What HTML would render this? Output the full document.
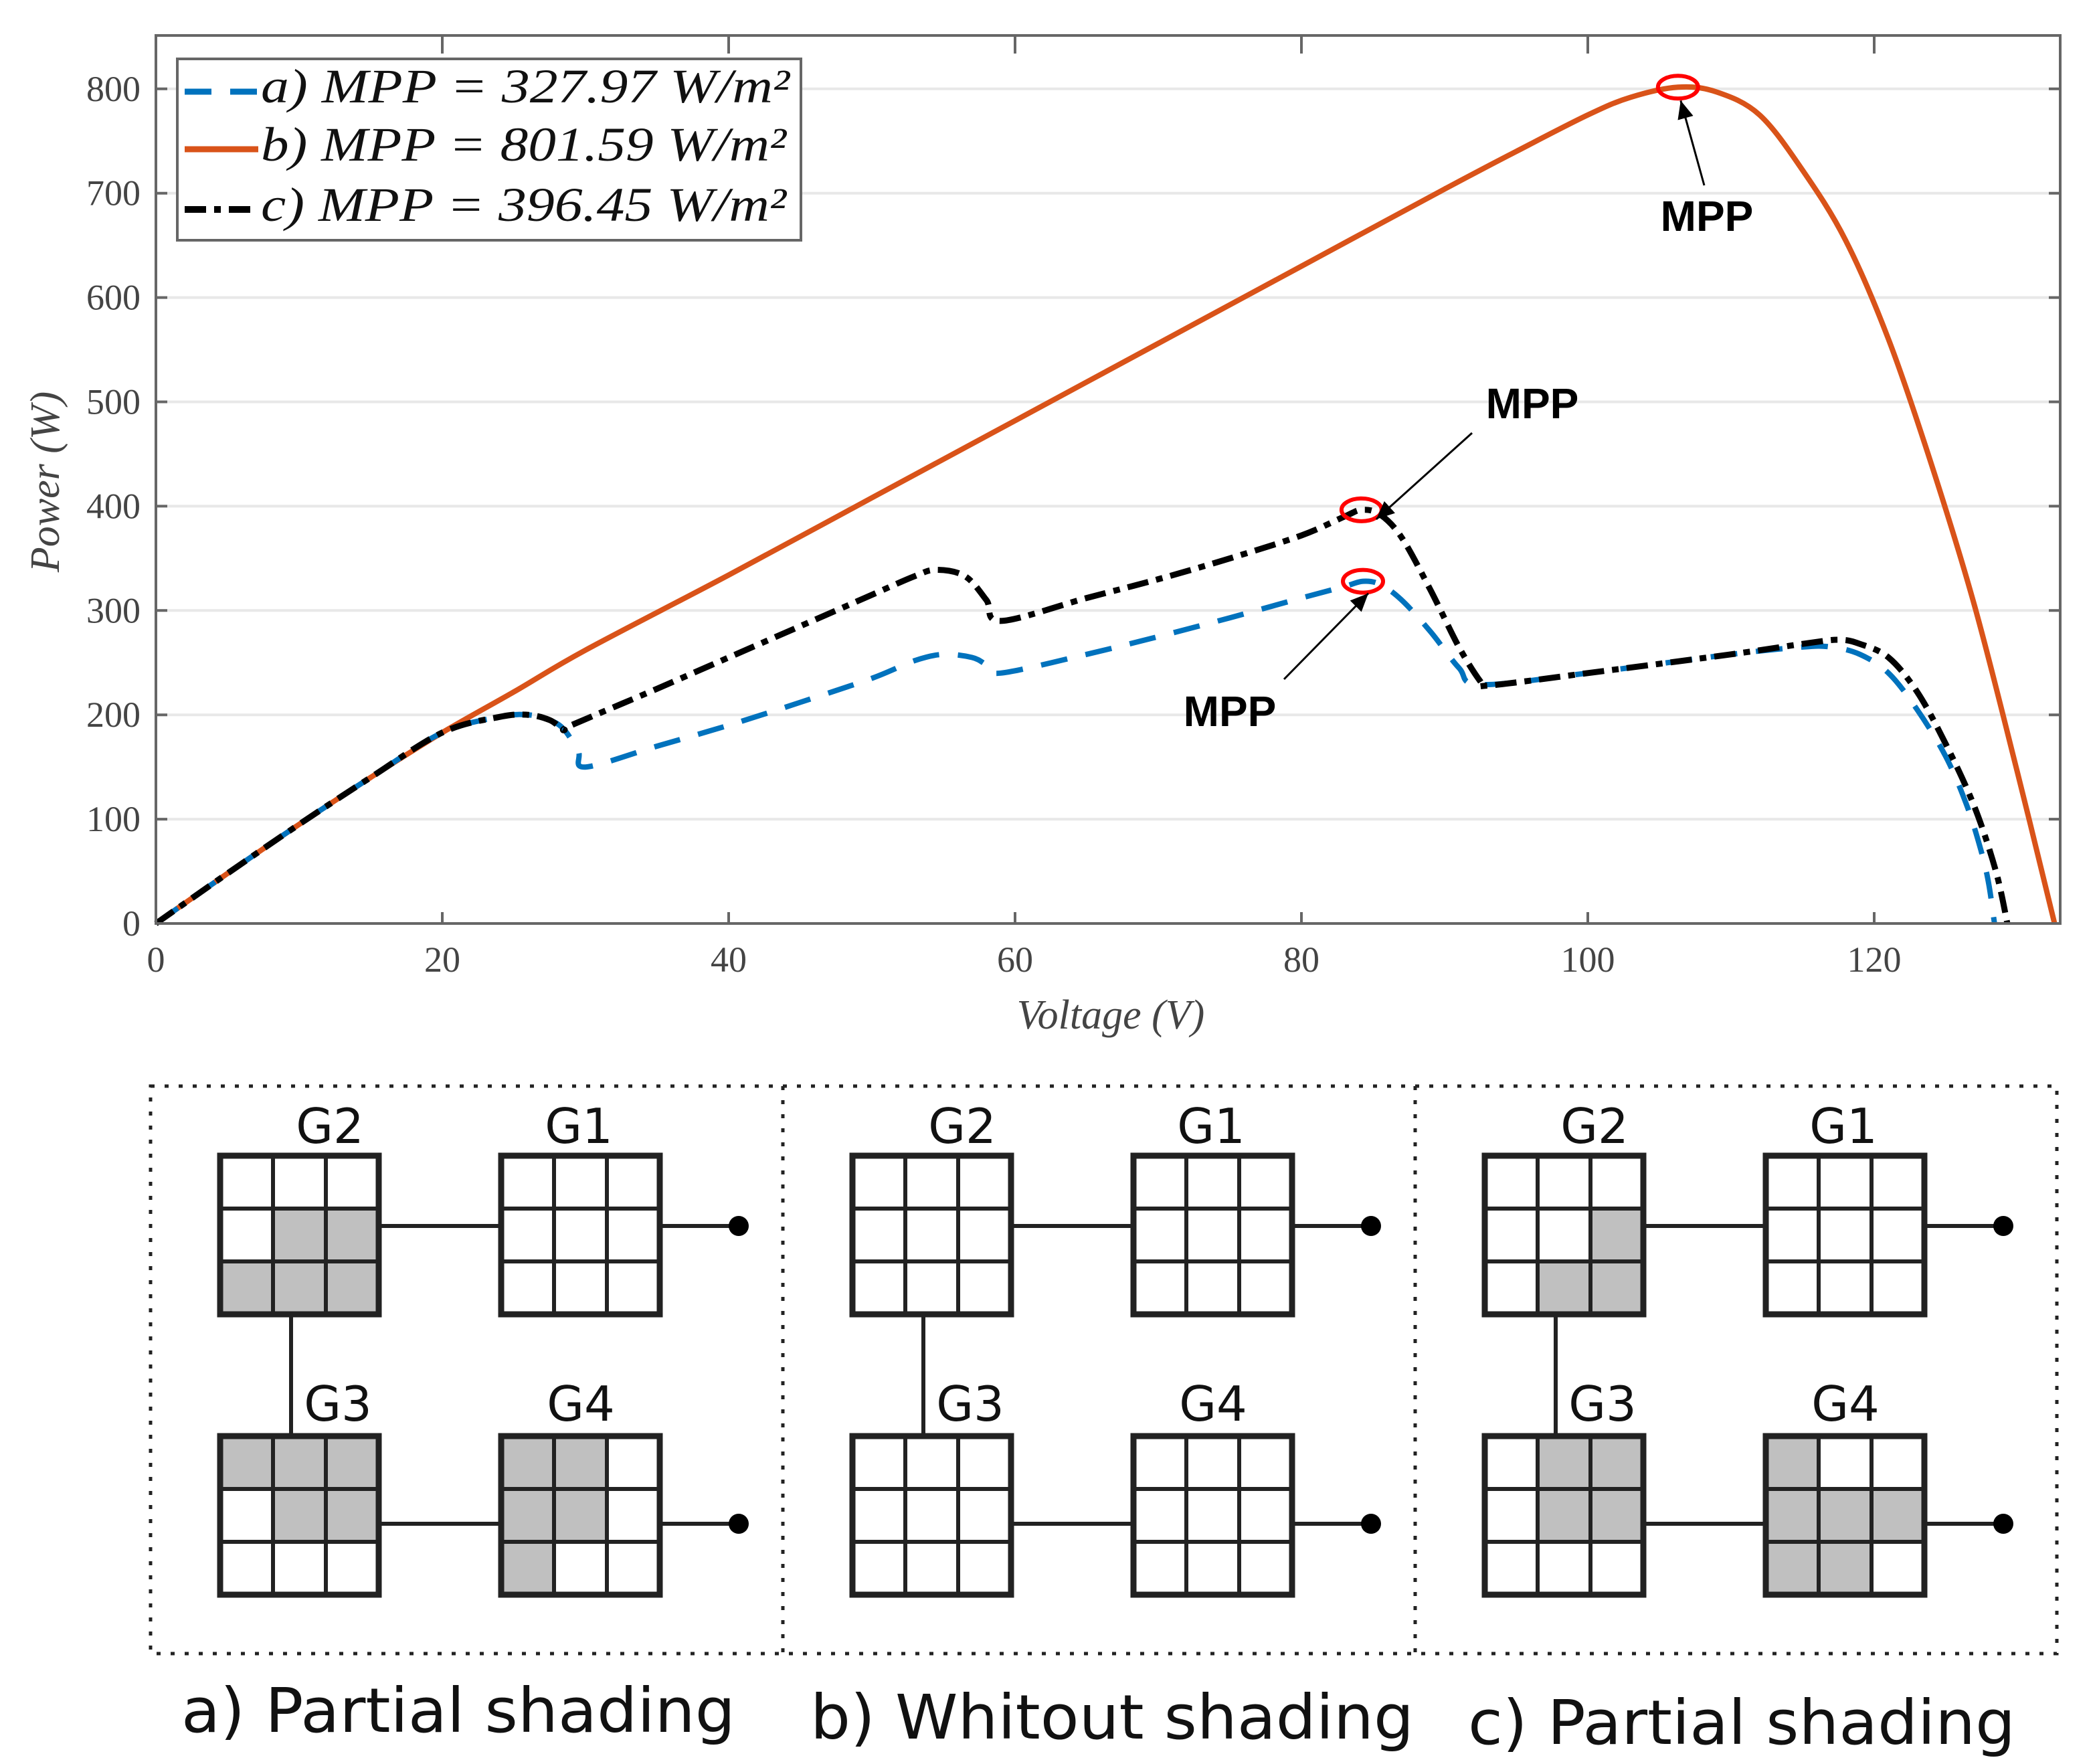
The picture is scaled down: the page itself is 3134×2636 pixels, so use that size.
<!DOCTYPE html>
<html><head><meta charset="utf-8"><style>
html,body{margin:0;padding:0;background:#fff}
svg{display:block}
</style></head><body>
<svg id="fig" xmlns="http://www.w3.org/2000/svg" width="3134" height="2636" viewBox="0 0 3134 2636">
<rect x="0" y="0" width="3134" height="2636" fill="#fff"/>
<g id="grid"></g>
<g id="series"></g>
<rect x="233" y="53" width="2846" height="1327" fill="none" stroke="#666" stroke-width="4"/>
<g id="ticks"></g>
<text transform="translate(88,720) rotate(-90)" text-anchor="middle" font-family="Liberation Serif, serif" font-style="italic" font-size="62" fill="#444">Power (W)</text>
<text x="1660" y="1537" text-anchor="middle" font-family="Liberation Serif, serif" font-style="italic" font-size="62" fill="#444">Voltage (V)</text>
<g>
<rect x="265" y="88" width="932" height="271" fill="#fff" stroke="#666" stroke-width="4"/>
<line x1="276" y1="137" x2="386" y2="137" stroke="#0072BD" stroke-width="9" stroke-dasharray="40 28"/>
<line x1="276" y1="223" x2="386" y2="223" stroke="#D95319" stroke-width="9"/>
<line x1="276" y1="313" x2="386" y2="313" stroke="#000" stroke-width="10" stroke-dasharray="32 12 10 12"/>
<text x="390" y="153" font-family="Liberation Serif, serif" font-style="italic" font-size="72" fill="#111" textLength="790" lengthAdjust="spacingAndGlyphs">a) MPP = 327.97 W/m²</text>
<text x="390" y="240" font-family="Liberation Serif, serif" font-style="italic" font-size="72" fill="#111" textLength="785" lengthAdjust="spacingAndGlyphs">b) MPP = 801.59 W/m²</text>
<text x="390" y="330" font-family="Liberation Serif, serif" font-style="italic" font-size="72" fill="#111" textLength="785" lengthAdjust="spacingAndGlyphs">c) MPP = 396.45 W/m²</text>
</g>
<g id="annot"></g>
<g id="panels"></g>
</svg>
<script>
// chart data
const xTicks = [0,20,40,60,80,100,120];
const yTicks = [0,100,200,300,400,500,600,700,800];
const vB = [0,5,10,15,20,25,30,40,50,60,70,80,90,95,100,103,106.3,109,112,115,118,121,124,127,130,132.6];
const pB = [0,48,95,140,183,222,262,334,408,482,556,630,704,740,775,792,801.6,797,775,722,655,560,440,305,145,0];
const vC = [0,5,10,15,20,24,26,27.5,28.5,29,35,40,45,50,53,54.5,56.5,58,59,65,70,75,80,83,84.2,85.5,87,89,91,92.5,93,100,110,115,117.5,119,121,123,125,127,128.5,129.3];
const pC = [0,48,95,140,183,198,200,195,186,190,225,255,285,315,333,339,333,310,290,312,330,350,372,390,396.5,392,370,320,265,232,228,240,258,268,272,268,255,222,172,112,50,0];
const vA = [0,5,10,15,20,24,26,27.5,28.5,29.5,30,35,40,45,50,53,55,57,58,59,65,70,75,80,83,84.3,85.5,87,89,91,92.5,100,110,115,117,119,121,123,125,126.5,127.5,128,128.4];
const pA = [0,48,95,140,183,198,200,195,186,165,150,170,190,212,235,252,258,255,248,240,258,275,293,312,323,328,325,310,280,245,229,240,258,265,265,258,240,205,160,112,68,38,0];
const mppV = [84.3,106.3,84.2];
const mppP = [328,801.6,396.5];

const NS='http://www.w3.org/2000/svg';
const X = v => 233 + 21.4*v;
const Y = p => 1380 - 1.559*p;
function mk(tag, attrs, parent){const e=document.createElementNS(NS,tag);for(const k in attrs)e.setAttribute(k,attrs[k]);parent.appendChild(e);return e;}

const grid=document.getElementById('grid'), ticks=document.getElementById('ticks');
yTicks.forEach(t=>{
  if(t>0){const g=mk('line',{x1:233,x2:3079,y1:Y(t),y2:Y(t),stroke:'#e8e8e8','stroke-width':4},grid);
  
  }
  const a=mk('line',{x1:233,x2:250,y1:Y(t),y2:Y(t),stroke:'#666','stroke-width':4},ticks);
  
  
  const b=mk('line',{x1:3062,x2:3079,y1:Y(t),y2:Y(t),stroke:'#666','stroke-width':4},ticks);
  
  
  const l=mk('text',{x:210,y:Y(t)+18,'text-anchor':'end','font-family':'Liberation Serif, serif','font-size':54,fill:'#444'},ticks);
  l.textContent=t;
  
  
});
xTicks.forEach(t=>{
  const a=mk('line',{x1:X(t),x2:X(t),y1:1380,y2:1363,stroke:'#666','stroke-width':4},ticks);
  
  
  const b=mk('line',{x1:X(t),x2:X(t),y1:53,y2:80,stroke:'#666','stroke-width':4},ticks);
  
  
  const l=mk('text',{x:X(t),y:1452,'text-anchor':'middle','font-family':'Liberation Serif, serif','font-size':54,fill:'#444'},ticks);
  l.textContent=t;
  
  
});

const series=document.getElementById('series');
function smoothPath(vs,ps){
  const P=vs.map((v,i)=>[X(v),Y(ps[i])]);
  let d='M'+P[0][0].toFixed(1)+','+P[0][1].toFixed(1);
  for(let i=0;i<P.length-1;i++){
    const p0=P[Math.max(0,i-1)],p1=P[i],p2=P[i+1],p3=P[Math.min(P.length-1,i+2)];
    const c1=[p1[0]+(p2[0]-p0[0])/6,p1[1]+(p2[1]-p0[1])/6];
    const c2=[p2[0]-(p3[0]-p1[0])/6,p2[1]-(p3[1]-p1[1])/6];
    d+=' C'+c1[0].toFixed(1)+','+c1[1].toFixed(1)+' '+c2[0].toFixed(1)+','+c2[1].toFixed(1)+' '+p2[0].toFixed(1)+','+p2[1].toFixed(1);
  }
  return d;
}
const sb=mk('path',{d:smoothPath(vB,pB),fill:'none',stroke:'#D95319','stroke-width':8,'stroke-linejoin':'round'},series);


const sa=mk('path',{d:smoothPath(vA,pA),fill:'none',stroke:'#0072BD','stroke-width':8,'stroke-dasharray':'40 28','stroke-linejoin':'round'},series);


const sc=mk('path',{d:smoothPath(vC,pC),fill:'none',stroke:'#000','stroke-width':9,'stroke-dasharray':'32 12 10 12','stroke-linejoin':'round'},series);



const annot=document.getElementById('annot');
mk('defs',{},annot).innerHTML='<marker id="ah" markerWidth="10" markerHeight="10" refX="9" refY="5" orient="auto" markerUnits="strokeWidth"><path d="M0,1 L9,5 L0,9 Z" fill="#000"/></marker>';
const mppName=['mpp-marker-a','mpp-marker-b','mpp-marker-c'];
mppV.forEach((v,i)=>{
  const e=mk('ellipse',{cx:X(v),cy:Y(mppP[i]),rx:30,ry:17,fill:'none',stroke:'#ff0000','stroke-width':6},annot);
  
  
});
const arrows=[[1919,1015,X(mppV[0])+8,Y(mppP[0])+18],[2547,277,X(mppV[1])+4,Y(mppP[1])+20],[2200,647,X(mppV[2])+22,Y(mppP[2])+14]];
const labels=[[1838,1085],[2551,345],[2290,625]];
arrows.forEach((a,i)=>{
  const ln=mk('line',{x1:a[0],y1:a[1],x2:a[2],y2:a[3],stroke:'#000','stroke-width':3,'marker-end':'url(#ah)'},annot);
  
  
  const t=mk('text',{x:labels[i][0],y:labels[i][1],'text-anchor':'middle','font-family':'Liberation Sans, sans-serif','font-weight':'bold','font-size':64,fill:'#000'},annot);
  t.textContent='MPP';
  
  
});

// shading diagrams
const panels=document.getElementById('panels');
const panelOffsets=[0,945,1890];
const captions=['a) Partial shading','b) Whitout shading','c) Partial shading'];
const capX=[271,1211,2194], capW=[828,902,818], capY=[2588,2598,2606];
const shade=[
 [[0,0,0,0,1,1,1,1,1],[0,0,0,0,0,0,0,0,0],[1,1,1,0,1,1,0,0,0],[1,1,0,1,1,0,1,0,0]],
 [[0,0,0,0,0,0,0,0,0],[0,0,0,0,0,0,0,0,0],[0,0,0,0,0,0,0,0,0],[0,0,0,0,0,0,0,0,0]],
 [[0,0,0,0,0,1,0,1,1],[0,0,0,0,0,0,0,0,0],[0,1,1,0,1,1,0,0,0],[1,0,0,1,1,1,1,1,0]]
];
const gNames=['G2','G1','G3','G4'];
const gPos=[[329,1727],[749,1727],[329,2146],[749,2146]];
const gLab=[[493,1708],[865,1708],[505,2123],[868,2123]];
mk('rect',{x:225,y:1623,width:2849,height:848,fill:'none',stroke:'#222','stroke-width':5,'stroke-dasharray':'6 15'},panels);
[1170,2115].forEach(x=>{const d=mk('line',{x1:x,x2:x,y1:1623,y2:2471,stroke:'#222','stroke-width':5,'stroke-dasharray':'6 15'},panels);
 
 });
panelOffsets.forEach((o,p)=>{
  const g=mk('g',{},panels);
  
  
  const L=(x1,y1,x2,y2)=>{const l=mk('line',{x1:x1+o,y1,x2:x2+o,y2,stroke:'#222','stroke-width':6},g);};
  L(567,1832,749,1832); L(985,1832,1104,1832); L(435,1964,435,2146); L(567,2277,749,2277); L(985,2277,1104,2277);
  [1832,2277].forEach(y=>{const c=mk('circle',{cx:1104+o,cy:y,r:15,fill:'#000'},g);});
  gPos.forEach((pos,k)=>{
    const bx=pos[0]+o, by=pos[1], cs=79;
    for(let i=0;i<9;i++){
      const r=mk('rect',{x:bx+(i%3)*cs,y:by+Math.floor(i/3)*cs,width:cs,height:cs,fill:shade[p][k][i]?'#c0c0c0':'#fff',stroke:'#222','stroke-width':6},g);
      
      
    }
    const fr=mk('rect',{x:bx,y:by,width:3*cs,height:3*cs,fill:'none',stroke:'#222','stroke-width':9},g);
    
    
    const t=mk('text',{x:gLab[k][0]+o,y:gLab[k][1],'text-anchor':'middle','font-family':'DejaVu Sans, sans-serif','font-size':72,fill:'#111'},g);
    t.textContent=gNames[k];
    
    
  });
  const c=mk('text',{x:capX[p],y:capY[p],'font-family':'DejaVu Sans, sans-serif','font-size':92,fill:'#111',textLength:capW[p],lengthAdjust:'spacingAndGlyphs'},panels);
  c.textContent=captions[p];
  
  
});
</script>
</body></html>
